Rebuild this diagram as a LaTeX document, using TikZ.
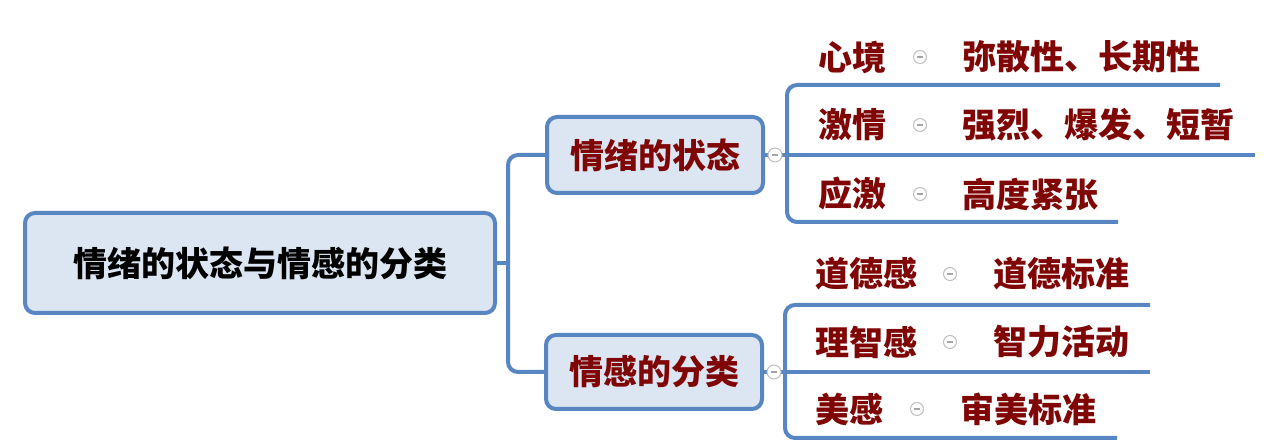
\documentclass[tikz,border=0pt]{standalone}
\usepackage{fontspec}
\newfontfamily\cjk{Noto Sans CJK SC}
\usetikzlibrary{positioning}
\definecolor{linkblue}{RGB}{88,134,194}
\definecolor{boxfill}{RGB}{220,230,242}
\definecolor{textred}{RGB}{128,6,6}

\begin{document}
\begin{tikzpicture}[x=0.5pt,y=-0.5pt,
  every node/.style={font=\cjk\bfseries\fontsize{17}{20}\selectfont},
  topicbox/.style={draw=linkblue,line width=2pt,fill=boxfill,rounded corners=5pt,inner sep=0pt},
  leaf/.style={anchor=west,inner sep=0pt,text=textred},
  fold/.style={circle,draw=gray!50,line width=0.5pt,fill=white,minimum size=6.5pt,inner sep=0pt,
    path picture={\draw[gray!70,line width=0.6pt] ([xshift=-1.6pt]path picture bounding box.center) -- ([xshift=1.6pt]path picture bounding box.center);}},
  link/.style={draw=linkblue,line width=2pt,rounded corners=5pt}]

\useasboundingbox (0,0) rectangle (1280,442);

%Main topic
\node[topicbox,minimum width=235pt,minimum height=50pt] (root) at (260,263) {情绪的状态与情感的分类};

% Branches
\node[topicbox,text=textred,minimum width=108pt,minimum height=38pt] (state) at (655,155) {情绪的状态};
\node[topicbox,text=textred,minimum width=108pt,minimum height=37pt] (kind) at (654,372) {情感的分类};
\coordinate (trunk) at (508,263);

% State leaves
\coordinate (sj) at (787,155);
\node[leaf] (mood) at (818,57) {心境};
\node[leaf] (passion) at (818,125) {激情};
\node[leaf] (stress) at (818,194) {应激};
\node[leaf] (mood-d) at (962,57) {弥散性、长期性};
\node[leaf] (passion-d) at (962,125) {强烈、爆发、短暂};
\node[leaf] (stress-d) at (962,194) {高度紧张};
\coordinate (mood-e) at (1220,85);
\coordinate (passion-e) at (1255,155);
\coordinate (stress-e) at (1118,222);

% Kind leaves
\coordinate (kj) at (785,372);
\node[leaf] (moral) at (815,274) {道德感};
\node[leaf] (reason) at (815,342) {理智感};
\node[leaf] (beauty) at (815,409) {美感};
\node[leaf] (moral-d) at (993,274) {道德标准};
\node[leaf] (reason-d) at (993,342) {智力活动};
\node[leaf] (beauty-d) at (960,409) {审美标准};
\coordinate (moral-e) at (1150,305);
\coordinate (reason-e) at (1150,372);
\coordinate (beauty-e) at (1117,438);

% Connections
\draw[link] (root.east) -- (trunk);
\draw[link] (trunk) |- (state.west);
\draw[link] (trunk) |- (kind.west);

\draw[link] (state.east) -- (sj);
\draw[link] (sj) |- (mood-e);
\draw[link] (sj) -- (passion-e);
\draw[link] (sj) |- (stress-e);

\draw[link] (kind.east) -- (kj);
\draw[link] (kj) |- (moral-e);
\draw[link] (kj) -- (reason-e);
\draw[link] (kj) |- (beauty-e);

% Fold marks
\node[fold,minimum size=7pt] (state-f) at (775,155) {};
\node[fold,minimum size=7pt] (kind-f) at (774,372) {};
\node[fold] (mood-f) at (920,57) {};
\node[fold] (passion-f) at (920,125) {};
\node[fold] (stress-f) at (920,194) {};
\node[fold] (moral-f) at (950,274) {};
\node[fold] (reason-f) at (950,342) {};
\node[fold] (beauty-f) at (917,409) {};

\end{tikzpicture}
\end{document}
